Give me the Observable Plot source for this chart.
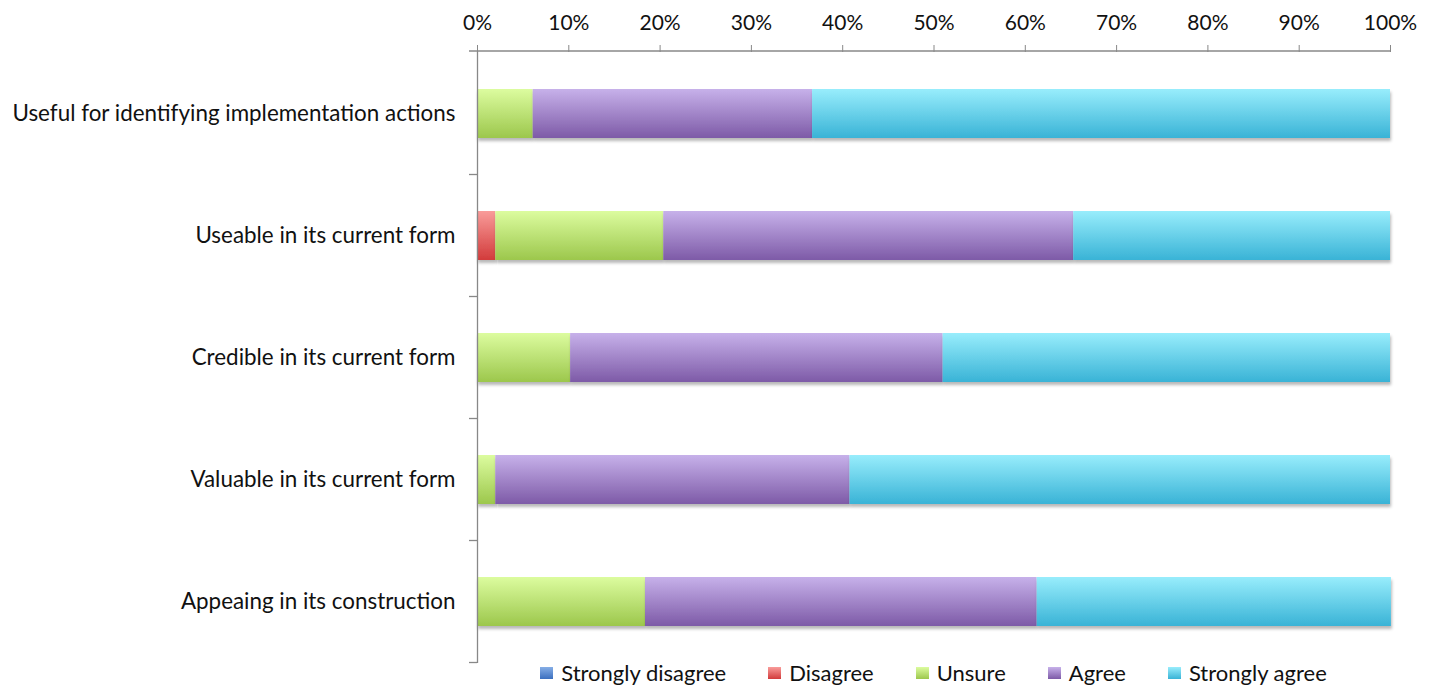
<!DOCTYPE html>
<html>
<head>
<meta charset="utf-8">
<script src="https://cdn.jsdelivr.net/npm/d3@7"></script>
<script src="https://cdn.jsdelivr.net/npm/@observablehq/plot@0.6"></script>
<style>
  html, body { margin: 0; padding: 0; background: #fff; }
  body { width: 1433px; height: 685px; overflow: hidden; font-family: Lato, "Open Sans", sans-serif; }
  #chart svg { display: block; }
  #legend { display: flex; justify-content: center; align-items: center; margin-left: 477px; width: 913px; height: 24px; margin-top: -3px; font-size: 22px; line-height: 24px; color: #111; }
  #legend .item { display: flex; align-items: center; margin: 0 21px; }
  #legend .sw { width: 13px; height: 12px; margin-right: 8px; }
</style>
</head>
<body>
<div id="chart"></div>
<div id="legend"></div>
<script>
const categories = [
  "Useful for identifying implementation actions",
  "Useable in its current form",
  "Credible in its current form",
  "Valuable in its current form",
  "Appeaing in its construction"
];
const responses = ["Strongly disagree", "Disagree", "Unsure", "Agree", "Strongly agree"];
const stronglyDisagree = [0, 0, 0, 0, 0];
const disagree = [0, 2.0, 0, 0, 0];
const unsure = [6.1, 18.4, 10.2, 2.0, 18.4];
const agree = [30.6, 44.9, 40.8, 38.8, 42.9];
const stronglyAgree = [63.3, 34.7, 49.0, 59.2, 38.8];
const xTicks = [0, 10, 20, 30, 40, 50, 60, 70, 80, 90, 100];

const gradients = {
  "Strongly disagree": ["#86aee6", "#3b6fbf"],
  "Disagree": ["#f99c9a", "#d23b3b"],
  "Unsure": ["#dcfc9f", "#9cc74c"],
  "Agree": ["#c7b1ea", "#7d5aa7"],
  "Strongly agree": ["#98edfc", "#39b3d6"]
};
const gradId = r => "g" + responses.indexOf(r);

const series = [stronglyDisagree, disagree, unsure, agree, stronglyAgree];
const rows = [];
categories.forEach((q, i) => {
  responses.forEach((r, j) => rows.push({question: q, response: r, value: series[j][i]}));
});

// global defs for gradients and shadow
const defsSvg = d3.select("body").append("svg").attr("width", 0).attr("height", 0).style("position", "absolute").style("top", 0).style("left", 0);
const defs = defsSvg.append("defs");
responses.forEach(r => {
  const g = defs.append("linearGradient").attr("id", gradId(r)).attr("x1", 0).attr("y1", 0).attr("x2", 0).attr("y2", 1);
  g.append("stop").attr("offset", "0%").attr("stop-color", gradients[r][0]);
  g.append("stop").attr("offset", "100%").attr("stop-color", gradients[r][1]);
});
const flt = defs.append("filter").attr("id", "shadow").attr("x", "-5%").attr("y", "-20%").attr("width", "110%").attr("height", "150%");
flt.append("feDropShadow").attr("dx", 1).attr("dy", 3).attr("stdDeviation", 1.6).attr("flood-color", "#000").attr("flood-opacity", 0.28);

const W = 1433, H = 664;
const chart = Plot.plot({
  width: W,
  height: H,
  marginTop: 51,
  marginBottom: 1,
  marginLeft: 477,
  marginRight: 43,
  style: {fontFamily: "Lato, 'Open Sans', sans-serif", fontSize: "22px", color: "#111", background: "#fff", overflow: "visible"},
  x: {domain: [0, 100], axis: null},
  y: {domain: categories, paddingInner: 0.6, paddingOuter: 0.3, axis: null},
  color: {domain: responses, range: responses.map(r => `url(#${gradId(r)})`)},
  marks: [
    Plot.barX(rows, Plot.stackX({x: "value", y: "question", fill: "response", order: responses})),
    Plot.axisX({anchor: "top", ticks: xTicks, tickFormat: d => d + "%", tickSize: 7, tickPadding: 15, stroke: "#888", fill: "#111", fontSize: 21, label: null}),
    Plot.axisY({anchor: "left", tickSize: 0, tickPadding: 22, fill: "#111", fontSize: 22.4, label: null}),
    Plot.ruleX([0], {stroke: "#888", strokeWidth: 1.3})
  ]
});
document.getElementById("chart").appendChild(chart);

// shadow on bars
d3.select(chart).selectAll("g[aria-label='bar'] rect").attr("filter", "url(#shadow)");

// top axis line and band boundary ticks from the scales
const xs = chart.scale("x"), ys = chart.scale("y");
const x0 = xs.apply(0), x100 = xs.apply(100);
const svgSel = d3.select(chart);
const yTop = ys.range[0];
svgSel.append("line").attr("x1", x0 - 8).attr("x2", x100).attr("y1", yTop).attr("y2", yTop)
  .attr("stroke", "#888").attr("stroke-width", 1.3);
const bounds = categories.map(c => ys.apply(c) + ys.bandwidth / 2 - ys.step / 2);
bounds.push(ys.apply(categories[categories.length - 1]) + ys.bandwidth / 2 + ys.step / 2);
bounds.slice(1).forEach(b => {
  svgSel.append("line").attr("x1", x0 - 8).attr("x2", x0).attr("y1", b).attr("y2", b)
    .attr("stroke", "#888").attr("stroke-width", 1.3);
});

// legend
const leg = d3.select("#legend");
responses.forEach(r => {
  const it = leg.append("div").attr("class", "item");
  it.append("svg").attr("class", "sw").attr("width", 13).attr("height", 12)
    .append("rect").attr("width", 13).attr("height", 12).attr("fill", `url(#${gradId(r)})`);
  it.append("span").text(r);
});
</script>
</body>
</html>
